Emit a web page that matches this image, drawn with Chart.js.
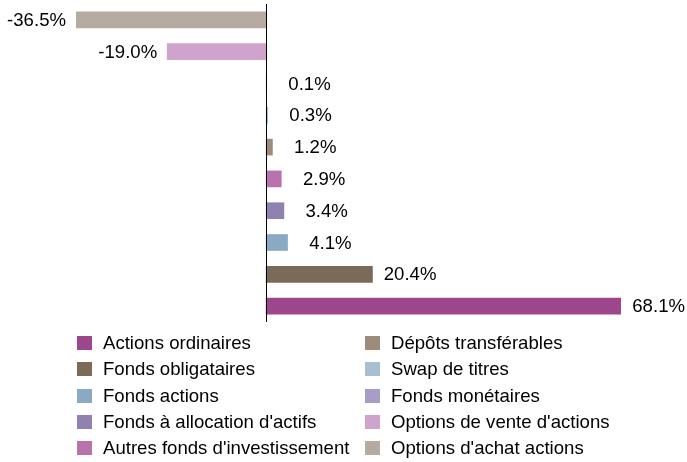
<!DOCTYPE html>
<html>
<head>
<meta charset="utf-8">
<script src="https://cdn.jsdelivr.net/npm/chart.js@4/dist/chart.umd.min.js"></script>
<style>
  body { margin: 0; background: #fff; }
  #wrap { position: relative; width: 687px; height: 462px; }
  #legend {
    position: absolute; left: 77px; top: 330px;
    display: grid; grid-auto-flow: column;
    grid-template-columns: 288px auto;
    grid-template-rows: repeat(5, 26.3px);
    font-family: "Liberation Sans", Arial, sans-serif; font-size: 18.6px; color: #000;
  }
  .item { display: flex; align-items: center; white-space: nowrap; }
  .box { width: 15px; height: 14px; margin-right: 11px; flex: none; }
</style>
</head>
<body>
<div id="wrap">
  <canvas id="chart" width="687" height="462"></canvas>
  <div id="legend"></div>
</div>
<script>
// categories, top to bottom as drawn
const categories = [
  "Options d'achat actions",
  "Options de vente d'actions",
  "Fonds monétaires",
  "Swap de titres",
  "Dépôts transférables",
  "Autres fonds d'investissement",
  "Fonds à allocation d'actifs",
  "Fonds actions",
  "Fonds obligataires",
  "Actions ordinaires"
];
const values = [-36.5, -19.0, 0.1, 0.3, 1.2, 2.9, 3.4, 4.1, 20.4, 68.1];
const colors = [
  '#b5aba0', '#cfa3cb', '#a99cc6', '#a8bfd2', '#9e8b7a',
  '#b972ad', '#9181b0', '#8aa9c3', '#7b6a58', '#9d468c'
];

// value labels + zero line
const barLabels = {
  id: 'barLabels',
  afterDatasetsDraw(chart) {
    const ctx = chart.ctx;
    const meta = chart.getDatasetMeta(0);
    const xScale = chart.scales.x;
    const zero = Math.round(xScale.getPixelForValue(0)) + 0.5;
    ctx.save();
    ctx.strokeStyle = '#000';
    ctx.lineWidth = 1;
    ctx.beginPath();
    ctx.moveTo(zero, chart.chartArea.top);
    ctx.lineTo(zero, chart.chartArea.bottom);
    ctx.stroke();

    ctx.font = '18.6px "Liberation Sans", Arial, sans-serif';
    ctx.fillStyle = '#000';
    ctx.textBaseline = 'middle';
    ctx.textAlign = 'right';
    meta.data.forEach(function (bar, i) {
      const v = values[i];
      const txt = v.toFixed(1) + '%';
      if (v < 0) {
        ctx.fillText(txt, bar.x - 10, bar.y + 1);
      } else {
        ctx.fillText(txt, bar.x + 64, bar.y + 1);
      }
    });
    ctx.restore();
  }
};

new Chart(document.getElementById('chart'), {
  type: 'bar',
  data: {
    labels: categories,
    datasets: [{
      data: values,
      backgroundColor: colors,
      borderWidth: 0,
      barThickness: 16
    }]
  },
  options: {
    indexAxis: 'y',
    responsive: false,
    animation: false,
    layout: { padding: { left: 76, right: 66, top: 4, bottom: 140 } },
    plugins: { legend: { display: false }, tooltip: { enabled: false } },
    scales: {
      x: { display: false, min: -36.5, max: 68.1 },
      y: { display: false }
    }
  },
  plugins: [barLabels]
});

// legend, column by column (bottom bar first)
const legend = document.getElementById('legend');
for (let i = categories.length - 1; i >= 0; i--) {
  const item = document.createElement('div');
  item.className = 'item';
  const box = document.createElement('span');
  box.className = 'box';
  box.style.background = colors[i];
  const label = document.createElement('span');
  label.textContent = categories[i];
  item.appendChild(box);
  item.appendChild(label);
  legend.appendChild(item);
}
</script>
</body>
</html>
